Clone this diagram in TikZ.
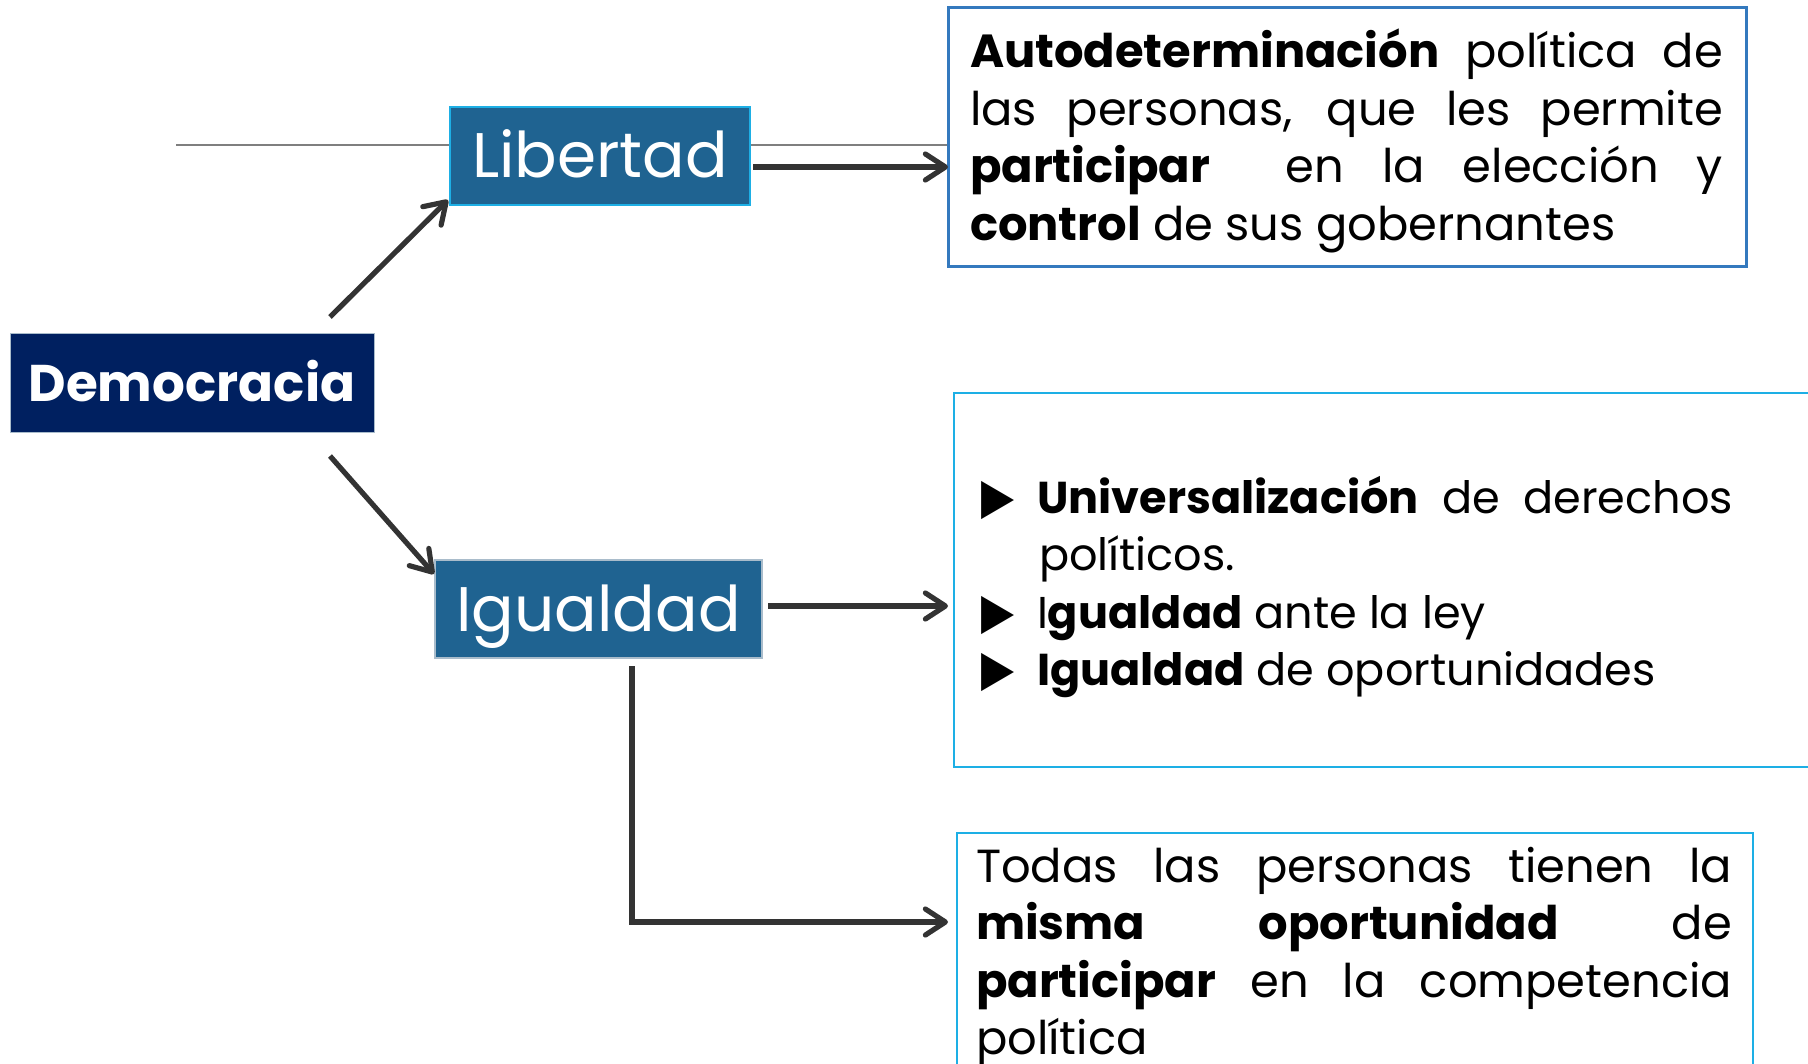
\documentclass[tikz,border=0pt]{standalone}
\usepackage{fontspec}
\usepackage{graphicx}
\setmainfont{Poppins}
\newfontfamily\symfont{DejaVu Sans}
\usetikzlibrary{arrows.meta,calc}
\definecolor{navy}{HTML}{002060}
\definecolor{steel}{HTML}{1F6391}
\definecolor{cyanb}{HTML}{1DAFE5}
\definecolor{blueb}{HTML}{3479BE}
\definecolor{arrowc}{HTML}{333333}
\definecolor{rulec}{HTML}{7F7F7F}
\definecolor{igub}{HTML}{A9BCCB}
\newcommand\bul{\makebox[28pt][l]{\symfont\fontsize{25}{25}\selectfont\scalebox{0.86}[1]{▶}}}
\begin{document}
\begin{tikzpicture}[x=0.5pt,y=-0.5pt,
  every node/.style={inner sep=0pt,outer sep=0pt},
  headbox/.style={fill=#1,text=white,text depth=0pt},
  frame/.style={draw=#1,line width=1.4pt,fill=white},
  bodytext/.style={anchor=base west,align=justify,text=black,
    font=\fontsize{23.2pt}{28.75pt}\selectfont},
  arr/.style={draw=arrowc,line width=2.6pt,-{Straight Barb[length=10pt,width=13pt,round]}}
]
\clip (0,0) rectangle (1808,1064);
\fill[white] (0,0) rectangle (1808,1064);
% decorative rule
\draw[rulec,line width=0.75pt] (176,145) -- (1748,145);

% main nodes
\node[headbox=navy,draw=igub,line width=0.5pt,minimum width=182pt,minimum height=49.5pt,
  text height=18.5pt,font=\fontsize{25.8pt}{30pt}\selectfont\bfseries] (dem) at (192,382.5) {Democracia};
\node[headbox=steel,draw=cyanb,line width=1.3pt,minimum width=150pt,minimum height=49pt,
  text height=22pt,font=\fontsize{31.5pt}{36pt}\selectfont] (lib) at (600,156) {Libertad};
\node[headbox=steel,draw=igub,line width=0.6pt,minimum width=163.5pt,minimum height=49pt,
  text height=22pt,font=\fontsize{31.5pt}{36pt}\selectfont] (igu) at (598.5,609) {Igualdad};

% frames
\node[frame=blueb,line width=1.5pt,minimum width=399pt,minimum height=129pt] (top) at (1347,137) {};
\node[frame=cyanb,minimum width=438pt,minimum height=187pt] (mid) at (1392,580) {};
\node[frame=cyanb,minimum width=398pt,minimum height=133.5pt] (bot) at (1355,966.5) {};

% texts
\node[bodytext,text width=376.5pt] (toptxt) at (970,68)
 {\textbf{Autodeterminación} política de\linebreak
  las personas, que les permite\linebreak
  \textbf{participar}\ \ en la elección y\linebreak
  \textbf{control} de sus gobernantes};
\node[bodytext,text width=376pt,font=\fontsize{22.3pt}{28.75pt}\selectfont] (midtxt) at (981,513)
 {\hyphenpenalty=10000\hangindent=29pt\hangafter=1
  \bul\textbf{Universalización} de derechos\linebreak políticos.\par
  \bul I\textbf{gualdad} ante la ley\par
  \bul\textbf{Igualdad} de oportunidades};
\node[bodytext,text width=378pt] (bottxt) at (976,882)
 {Todas las personas tienen la\linebreak
  \textbf{misma} \textbf{oportunidad} de\linebreak
  \textbf{participar} en la competencia\linebreak
  política};

% connectors
\draw[arr] ($(dem.north east)+(-44,-16)$) -- ($(lib.south west)+(-2,-5)$);
\draw[arr] ($(dem.south east)+(-44,24)$) -- ($(igu.north west)+(-1,14)$);
\draw[arr] ($(lib.east)+(3,11)$) coordinate (a1) -- (a1 -| top.west);
\draw[arr] ($(igu.east)+(6,-3)$) coordinate (a2) -- ($(a2 -| mid.west)+(-6,0)$);
\draw[arr] ($(igu.south)+(33.5,8)$) |- ($(bot.north west)+(-9,89)$);
\end{tikzpicture}
\end{document}
